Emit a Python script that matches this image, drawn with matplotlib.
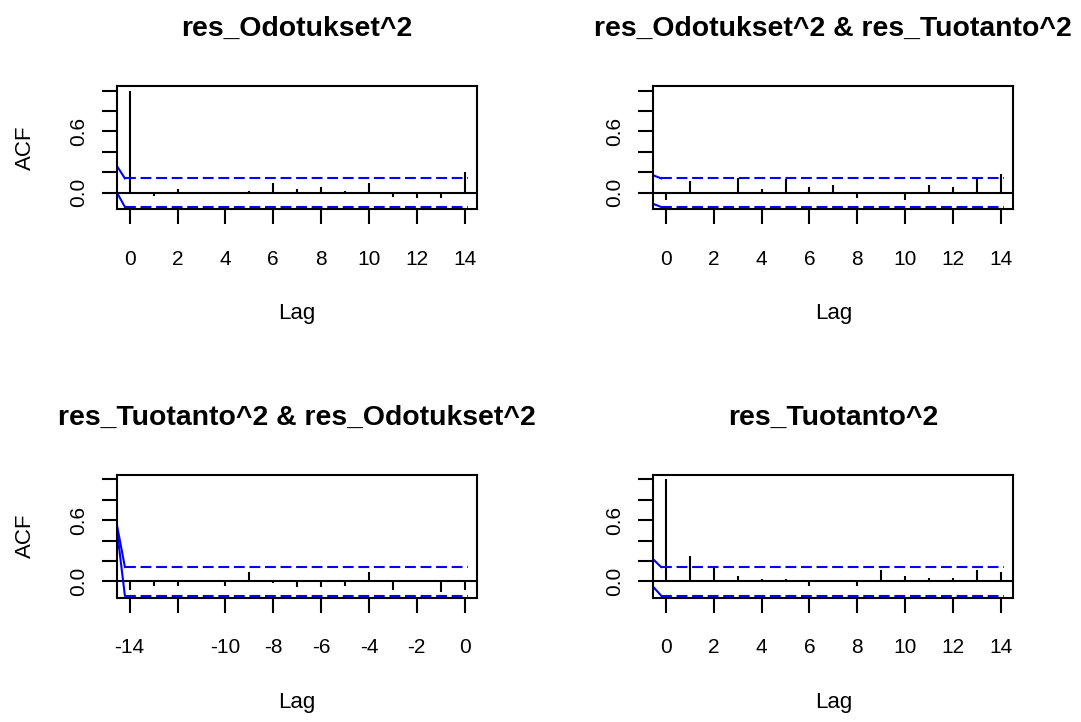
import matplotlib
matplotlib.use("Agg")
import matplotlib.pyplot as plt
import numpy as np

plt.rcParams['font.family'] = ['Liberation Sans', 'DejaVu Sans']
plt.rcParams['lines.scale_dashes'] = False

# ---- data ----
titles = ["res_Odotukset^2", "res_Odotukset^2 & res_Tuotanto^2",
          "res_Tuotanto^2 & res_Odotukset^2", "res_Tuotanto^2"]
lags_pos = list(range(0, 15))
lags_neg = list(range(-14, 1))
acf_11 = [1.0, -0.03, 0.04, 0.0, 0.0, 0.02, 0.09, 0.04, 0.06, 0.02, 0.09, -0.04, -0.055, -0.055, 0.20]
acf_12 = [-0.07, 0.11, 0.0, 0.14, 0.04, 0.13, 0.06, 0.075, -0.055, 0.0, -0.07, 0.075, 0.06, 0.13, 0.18]
acf_21 = [-0.08, -0.045, -0.045, 0.015, -0.045, 0.09, -0.02, -0.06, -0.06, -0.045, 0.09, -0.08, 0.0, -0.10, -0.08]
acf_22 = [1.0, 0.25, 0.13, 0.05, 0.02, 0.02, -0.045, 0.0, -0.045, 0.11, 0.05, 0.035, 0.035, 0.11, 0.09]
ci_level = 0.14
ci_upper_start = [0.26, 0.17, 0.55, 0.215]
ci_lower_start = [0.0, -0.11, 0.50, -0.055]
xtick_pos = [0, 2, 4, 6, 8, 10, 12, 14]
xtick_neg = [-14, -12, -10, -8, -6, -4, -2, 0]
xtick_neg_labels = ["-14", "", "-10", "-8", "-6", "-4", "-2", "0"]
ytick_vals = [0.0, 0.2, 0.4, 0.6, 0.8, 1.0]
ytick_labels = ["0.0", "", "", "0.6", "", ""]

W, H = 1081, 722
fig = plt.figure(figsize=(W / 100, H / 100), dpi=100)

def px_axes(l, t, r, b):
    return fig.add_axes([l / W, 1 - b / H, (r - l) / W, (b - t) / H])

boxes = [(117, 86, 477, 209), (653.3, 86, 1013.3, 209),
         (117, 474.7, 477, 597.7), (653.3, 474.7, 1013.3, 597.7)]
lag_sets = [lags_pos, lags_pos, lags_neg, lags_pos]
acf_sets = [acf_11, acf_12, acf_21, acf_22]
LW = 1.5
blue = (0, 0, 1)

for i in range(4):
    ax = px_axes(*boxes[i])
    lags = np.array(lag_sets[i])
    vals = np.array(acf_sets[i])
    lo, hi = lags.min(), lags.max()
    ax.set_xlim(lo - 0.53, hi + 0.52)
    ax.set_ylim(-0.16, 1.045)
    ax.vlines(lags, 0, vals, color='black', lw=LW)
    ax.axhline(0, color='black', lw=LW)
    xs = lo - 0.2
    xl = lo - 0.53
    for start, lev in ((ci_upper_start[i], ci_level), (ci_lower_start[i], -ci_level)):
        ax.plot([xl, xs], [start, lev], color=blue, lw=LW, clip_on=True)
        ax.plot([xs, hi + 0.15], [lev, lev], color=blue, lw=LW,
                dashes=(7.8, 3.4))
    for s in ax.spines.values():
        s.set_linewidth(LW)
    if i == 2:
        ax.set_xticks(xtick_neg)
        ax.set_xticklabels(xtick_neg_labels)
    else:
        ax.set_xticks(xtick_pos)
    ax.set_yticks(ytick_vals)
    ax.set_yticklabels(ytick_labels, rotation=90, va='center')
    ax.tick_params(axis='both', length=10.8, width=LW, labelsize=15, direction='out')
    ax.tick_params(axis='x', pad=18.4)
    ax.tick_params(axis='y', pad=10.2)
    ax.set_xlabel("Lag", fontsize=16, labelpad=25)
    if i in (0, 2):
        ax.set_ylabel("ACF", fontsize=16, labelpad=24)
    ax.set_title(titles[i], fontsize=20.4, fontweight='bold', pad=36)

fig.savefig("out.png", dpi=100)
